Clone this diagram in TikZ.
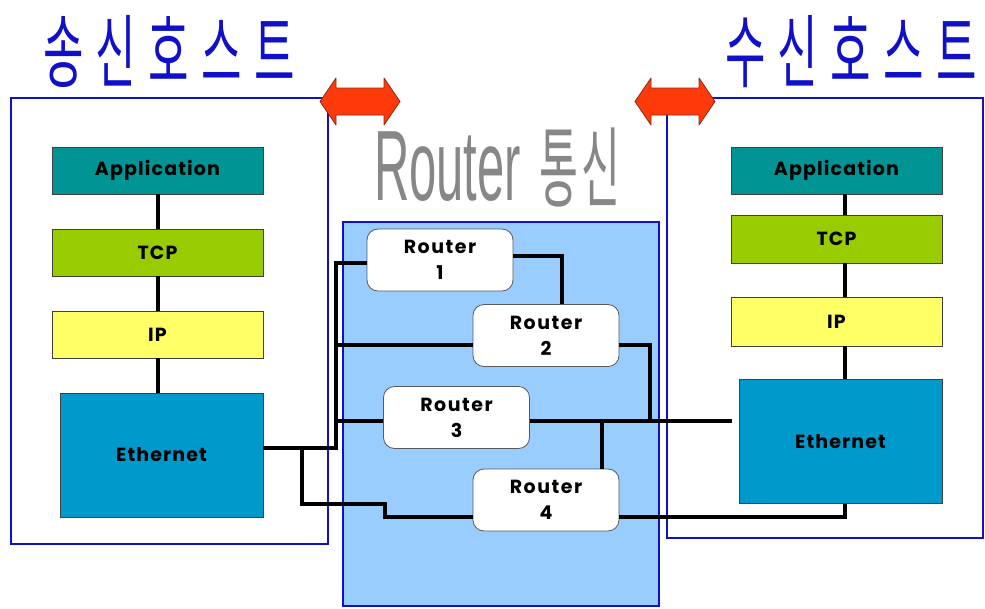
\documentclass[tikz,border=0pt]{standalone}
\usepackage{fontspec}
\setmainfont{Liberation Sans}
\newfontfamily\kr{Noto Sans CJK KR}
\newfontfamily\boxfont{Poppins}
\definecolor{hostblue}{HTML}{1010C8}
\definecolor{appcol}{HTML}{009494}
\definecolor{tcpcol}{HTML}{99CC00}
\definecolor{ipcol}{HTML}{FFFF66}
\definecolor{ethcol}{HTML}{0099CC}
\definecolor{netcol}{HTML}{99CCFF}
\definecolor{arrowred}{HTML}{FF3A0A}
\definecolor{arrowedge}{HTML}{8A2A10}
\tikzset{
  layer/.style={draw=black!75, line width=0.8pt, inner sep=0pt,
    font=\boxfont\bfseries\fontsize{19}{19}\selectfont\addfontfeature{LetterSpace=6}},
  router/.style={draw=black!65, line width=0.8pt, fill=white, rounded corners=11pt,
    inner sep=0pt, minimum width=146pt, minimum height=62pt, align=center,
    font=\boxfont\bfseries\fontsize{19}{26}\selectfont\addfontfeature{LetterSpace=8}},
  hostframe/.style={draw=hostblue, line width=2.6pt},
  wire/.style={draw=black, line width=3.4pt},
  bigarrow/.style={fill=arrowred, draw=arrowedge, line width=0.8pt, line join=round},
  title/.style={text=hostblue, inner sep=0pt, xscale=0.55,
    font=\kr\fontsize{80}{80}\selectfont\addfontfeature{LetterSpace=28}}
}
\begin{document}
\begin{tikzpicture}[x=1pt, y=-1pt]
\useasboundingbox (0,0) rectangle (985,608);

% host frames and the router network area
\draw[hostframe] (11,98) rectangle (328,544);
\draw[hostframe] (667,98) rectangle (983,538);
\draw[hostblue, line width=2.6pt, fill=netcol] (343,222) rectangle (659,606);

% titles
\node[title, anchor=base west] (sendtitle) at (43,81) {송신호스트};
\node[title, anchor=base west] (recvtitle) at (725,81) {수신호스트};
\node[anchor=base west, inner sep=0pt, text=black!47, xscale=0.49,
      font=\fontsize{100}{100}\selectfont] (rtitle) at (374,200)
      {Router\hspace{10pt} \scalebox{0.98}[1]{\kr\fontsize{88}{88}\selectfont\addfontfeature{LetterSpace=8}통신}};

% double arrows between hosts and the network
\draw[bigarrow] (320,101.5) -- (336,78) -- (336,88) -- (384,88) -- (384,78)
  -- (400,101.5) -- (384,125) -- (384,115) -- (336,115) -- (336,125) -- cycle;
\draw[bigarrow] (635,101.5) -- (651,78) -- (651,88) -- (699,88) -- (699,78)
  -- (715,101.5) -- (699,125) -- (699,115) -- (651,115) -- (651,125) -- cycle;

% sending host protocol stack
\node[layer, fill=appcol, minimum width=211pt, minimum height=47pt] (app1) at (157.5,170.5) {Application};
\node[layer, fill=tcpcol, minimum width=211pt, minimum height=47pt] (tcp1) at (157.5,252.5) {TCP};
\node[layer, fill=ipcol, minimum width=211pt, minimum height=47pt] (ip1) at (157.5,334.5) {IP};
\node[layer, fill=ethcol, minimum width=203pt, minimum height=124pt] (eth1) at (161.5,455) {Ethernet};

% receiving host protocol stack
\node[layer, fill=appcol, minimum width=211pt, minimum height=47pt] (app2) at (836.5,170.5) {Application};
\node[layer, fill=tcpcol, minimum width=211pt, minimum height=48pt] (tcp2) at (836.5,239) {TCP};
\node[layer, fill=ipcol, minimum width=211pt, minimum height=49pt] (ip2) at (836.5,321.5) {IP};
\node[layer, fill=ethcol, minimum width=203pt, minimum height=124pt] (eth2) at (840.5,441.5) {Ethernet};

% routers
\node[router] (r1) at (440,260) {Router\\1};
\node[router] (r2) at (546,335.5) {Router\\2};
\node[router] (r3) at (456.5,417.5) {Router\\3};
\node[router] (r4) at (546,500) {Router\\4};

% bend points of the cabling
\coordinate (lx) at (158,0);
\coordinate (rx) at (845,0);
\coordinate (tt) at (336,263);
\coordinate (tb) at (336,448);
\coordinate (b2) at (336,345);
\coordinate (b3) at (336,421);
\coordinate (sp) at (302,448);
\coordinate (s1) at (302,504);
\coordinate (s2) at (385,504);
\coordinate (s3) at (385,517);
\coordinate (c12) at (562,256);
\coordinate (c23) at (650,345);
\coordinate (bus) at (650,421);
\coordinate (c34) at (602,421);
\coordinate (c4e) at (845,517);

% stack links
\draw[wire] (app1.south -| lx) -- (tcp1.north -| lx);
\draw[wire] (tcp1.south -| lx) -- (ip1.north -| lx);
\draw[wire] (ip1.south -| lx) -- (eth1.north -| lx);
\draw[wire] (app2.south -| rx) -- (tcp2.north -| rx);
\draw[wire] (tcp2.south -| rx) -- (ip2.north -| rx);
\draw[wire] (ip2.south -| rx) -- (eth2.north -| rx);

% sending host to the routers
\draw[wire] (eth1.east |- tb) -- (tb) -- (tt) -- (tt -| r1.west);
\draw[wire] (b2) -- (b2 -| r2.west);
\draw[wire] (b3) -- (b3 -| r3.west);
\draw[wire] (sp) -- (s1) -- (s2) -- (s3) -- (s3 -| r4.west);

% between routers and to the receiving host
\draw[wire] (c12 -| r1.east) -- (c12) -- (c12 |- r2.north);
\draw[wire] (c23 -| r2.east) -- (c23) -- (bus);
\draw[wire] (b3 -| r3.east) -- ([xshift=-7pt]b3 -| eth2.west);
\draw[wire] (c34) -- (c34 |- r4.north);
\draw[wire] (c4e -| r4.east) -- (c4e) -- (c4e |- eth2.south);
\end{tikzpicture}
\end{document}
